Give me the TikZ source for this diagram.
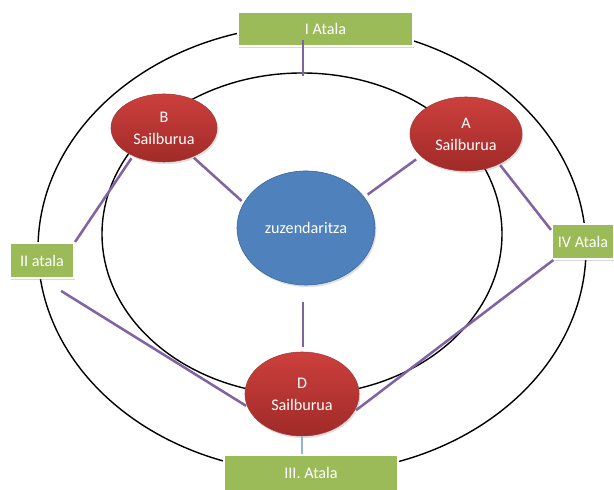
\documentclass[tikz,border=0pt]{standalone}
\usepackage{fontspec}
\setmainfont{Carlito}
\usetikzlibrary{shapes,shadows,calc}
\definecolor{atalagreen}{HTML}{9BBB59}
\definecolor{zuzblue}{HTML}{4F81BD}
\definecolor{zuzborder}{HTML}{3A6496}
\definecolor{sailtop}{HTML}{CC403D}
\definecolor{sailmid}{HTML}{C03A38}
\definecolor{sailbottom}{HTML}{A02A28}
\definecolor{sailborder}{HTML}{A33A36}
\definecolor{linkpurple}{HTML}{8064A2}
\definecolor{linkblue}{HTML}{95B3D7}

\begin{document}
\begin{tikzpicture}[
x=0.025cm, y=0.025cm,
every node/.style={font=\fontsize{11.5}{15.5}\selectfont, text=white, align=center, inner sep=0pt},
ring/.style={draw=black, line width=1pt},
sail/.style={ellipse, draw=sailborder, top color=sailtop, middle color=sailmid, bottom color=sailbottom,
  drop shadow={opacity=0.25, shadow xshift=1pt, shadow yshift=-1.5pt}},
zuz/.style={ellipse, draw=zuzborder, fill=zuzblue,
  drop shadow={opacity=0.25, shadow xshift=1pt, shadow yshift=-1.5pt}},
atala/.style={rectangle, fill=atalagreen, draw=white, line width=1.5pt,
  drop shadow={opacity=0.3, shadow xshift=1pt, shadow yshift=-1.5pt}},
link/.style={draw=linkpurple, line width=1.8pt}]
\useasboundingbox (0,0) rectangle (614,490);

\draw[ring] (312,241) ellipse [x radius=274, y radius=224];
\draw[ring] (302,256) ellipse [x radius=200, y radius=161];

\node[zuz, minimum width=3.45cm, minimum height=2.85cm] (z) at (306,262) {zuzendaritza};
\node[sail, minimum width=2.65cm, minimum height=1.7cm] (b) at (164,362) {B\\Sailburua};
\node[sail, minimum width=2.8cm, minimum height=1.85cm] (a) at (466,356) {A\\Sailburua};
\node[sail, minimum width=2.85cm, minimum height=2.1cm] (d) at (302,96) {D\\Sailburua};

\node[atala, minimum width=4.375cm, minimum height=0.85cm] (ia) at (325.5,461) {I Atala};
\node[atala, minimum width=1.6cm, minimum height=0.875cm] (iia) at (42,229.5) {II atala};
\node[atala, minimum width=1.55cm, minimum height=0.875cm] (iva) at (583,248.5) {IV Atala};
\node[atala, minimum width=4.35cm, minimum height=0.9cm] (iiia) at (311,17) {III. Atala};

\draw[link] ($(ia.south)+(-22.5,7)$) -- ++(0,-36);
\draw[link, shorten <=2pt] (b.222) -- (iia.north east);
\draw[link, shorten <=1pt, shorten >=2pt] (b.-45) -- (z.158);
\draw[link, shorten <=4pt, shorten >=3pt] (a.206) -- (z.28);
\draw[link, shorten <=1pt] (a.-42) -- (iva.160);
\draw[link, shorten >=2pt] (iva.212) -- (d.-19);
\draw[link, shorten <=16pt, shorten >=1pt] (iia.south) -- (d.193);
\draw[link, shorten <=12pt, shorten >=3pt] (z.south -| 303,0) -- (d.north -| 303,0);
\draw[draw=linkblue, line width=0.8pt] (d.south) -- (d.south |- iiia.north);
\end{tikzpicture}
\end{document}
